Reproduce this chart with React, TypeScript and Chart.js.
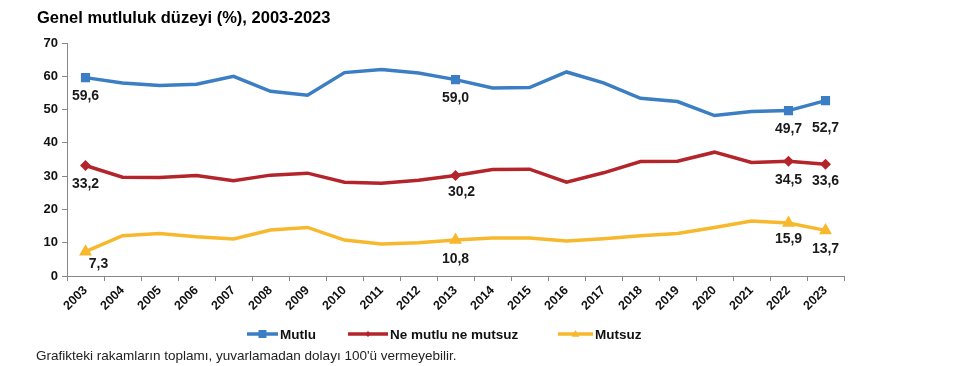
import React, { useEffect, useRef } from "react";
import { Chart, registerables } from "chart.js";

Chart.register(...registerables);

const TITLE = "Genel mutluluk düzeyi (%), 2003-2023";
const FOOTNOTE = "Grafikteki rakamların toplamı, yuvarlamadan dolayı 100'ü vermeyebilir.";
const YEARS = ["2003","2004","2005","2006","2007","2008","2009","2010","2011","2012","2013","2014","2015","2016","2017","2018","2019","2020","2021","2022","2023"];
const MUTLU = [59.6, 58.0, 57.2, 57.6, 60.0, 55.5, 54.3, 61.1, 62.0, 61.0, 59.0, 56.5, 56.6, 61.3, 58.0, 53.4, 52.4, 48.2, 49.4, 49.7, 52.7];
const NOTR = [33.2, 29.7, 29.6, 30.2, 28.6, 30.3, 30.9, 28.2, 27.9, 28.8, 30.2, 32.0, 32.1, 28.2, 31.0, 34.4, 34.5, 37.2, 34.1, 34.5, 33.6];
const MUTSUZ = [7.3, 12.1, 12.8, 11.8, 11.1, 13.8, 14.6, 10.8, 9.6, 10.0, 10.8, 11.4, 11.4, 10.5, 11.2, 12.1, 12.8, 14.6, 16.5, 15.9, 13.7];
const SERIES = ["Mutlu", "Ne mutlu ne mutsuz", "Mutsuz"];
const LABEL_IDX = [0, 10, 19, 20];
const Y_MAX = 70;
const Y_STEP = 10;

const COLORS = ["#3C7EC3", "#B3252B", "#F8B82E"];
const STYLES: any[] = ["rect", "rectRot", "triangle"];
const RADII = [4, 3, 4];

const FONT = "'Liberation Sans', Arial, sans-serif";

const labelOffsets: Record<string, [number, number]> = {
  "0-20": [0, 28],
  "1-10": [6, 17],
  "1-20": [0, 17],
  "2-0": [13, 12],
  "2-19": [0, 16],
};

const decor = {
  id: "decor",
  afterDatasetsDraw(chart: any) {
    const ctx = chart.ctx;
    ctx.save();
    ctx.font = `bold 14px ${FONT}`;
    ctx.fillStyle = "#1a1a1a";
    ctx.textAlign = "center";
    ctx.textBaseline = "middle";
    chart.data.datasets.forEach((ds: any, di: number) => {
      const meta = chart.getDatasetMeta(di);
      LABEL_IDX.forEach((i) => {
        const el = meta.data[i];
        if (!el) return;
        const off = labelOffsets[`${di}-${i}`] || [0, 19];
        const txt = Number(ds.data[i]).toFixed(1).replace(".", ",");
        ctx.fillText(txt, el.x + off[0], el.y + off[1]);
      });
    });
    ctx.restore();
  },
  afterDraw(chart: any) {
    const ctx = chart.ctx;
    ctx.save();
    ctx.fillStyle = "#000";
    ctx.textAlign = "left";
    ctx.textBaseline = "middle";
    ctx.font = `bold 16.5px ${FONT}`;
    ctx.fillText(TITLE, 37, 18);
    const legendX = [247, 348, 558];
    const lineW = [31, 40, 35];
    const ly = 334;
    chart.data.datasets.forEach((ds: any, di: number) => {
      const x0 = legendX[di];
      ctx.strokeStyle = COLORS[di];
      ctx.lineWidth = 3.5;
      ctx.beginPath();
      ctx.moveTo(x0, ly);
      ctx.lineTo(x0 + lineW[di], ly);
      ctx.stroke();
      ctx.fillStyle = COLORS[di];
      const cx = x0 + lineW[di] / 2;
      const r = RADII[di];
      ctx.beginPath();
      if (di === 0) {
        ctx.rect(cx - r, ly - r, 2 * r, 2 * r);
      } else if (di === 1) {
        ctx.moveTo(cx, ly - r);
        ctx.lineTo(cx + r, ly);
        ctx.lineTo(cx, ly + r);
        ctx.lineTo(cx - r, ly);
        ctx.closePath();
      } else {
        ctx.moveTo(cx, ly - r);
        ctx.lineTo(cx + r, ly + r * 0.7);
        ctx.lineTo(cx - r, ly + r * 0.7);
        ctx.closePath();
      }
      ctx.fill();
      ctx.fillStyle = "#111";
      ctx.font = `bold 13.5px ${FONT}`;
      ctx.fillText(ds.label, x0 + lineW[di] + 2, ly + 1);
    });
    ctx.font = `13.5px ${FONT}`;
    ctx.fillStyle = "#222";
    ctx.fillText(FOOTNOTE, 36, 356);
    ctx.restore();
  },
};

export default function App() {
  const ref = useRef<HTMLCanvasElement>(null);
  useEffect(() => {
    if (!ref.current) return;
    const seriesData = [MUTLU, NOTR, MUTSUZ];
    const chart = new Chart(ref.current, {
      type: "line",
      data: {
        labels: YEARS,
        datasets: seriesData.map((d, di) => ({
          label: SERIES[di],
          data: d,
          borderColor: COLORS[di],
          backgroundColor: COLORS[di],
          borderWidth: 3.5,
          pointStyle: STYLES[di],
          pointRadius: d.map((_, i) => (LABEL_IDX.includes(i) ? RADII[di] : 0)),
          pointHoverRadius: 0,
          tension: 0,
        })),
      },
      options: {
        animation: false,
        responsive: false,
        maintainAspectRatio: false,
        events: [],
        layout: { padding: { top: 43, right: 109, left: 0, bottom: 0 } },
        plugins: {
          legend: { display: false },
          tooltip: { enabled: false },
          title: { display: false },
        },
        scales: {
          x: {
            offset: true,
            grid: {
              offset: true,
              drawOnChartArea: false,
              drawTicks: true,
              tickLength: 5,
              color: "#888",
            },
            border: { display: true, color: "#888", width: 1 },
            ticks: {
              maxRotation: 45,
              minRotation: 45,
              autoSkip: false,
              padding: 2,
              color: "#111",
              font: { family: FONT, size: 12.5, weight: "bold" },
            },
            afterFit: (s: any) => {
              s.height = 90;
            },
          },
          y: {
            min: 0,
            max: Y_MAX,
            ticks: {
              stepSize: Y_STEP,
              padding: 4,
              color: "#111",
              font: { family: FONT, size: 13, weight: "bold" },
            },
            grid: {
              drawOnChartArea: false,
              drawTicks: true,
              tickLength: 5,
              color: "#888",
            },
            border: { display: true, color: "#888", width: 1 },
            afterFit: (s: any) => {
              s.width = 67;
            },
          },
        },
      },
      plugins: [decor],
    });
    return () => chart.destroy();
  }, []);
  return (
    <div style={{ position: "absolute", left: 0, top: 0, width: 953, height: 366, background: "#fff" }}>
      <canvas ref={ref} width={953} height={366} style={{ width: 953, height: 366, display: "block" }} />
    </div>
  );
}
